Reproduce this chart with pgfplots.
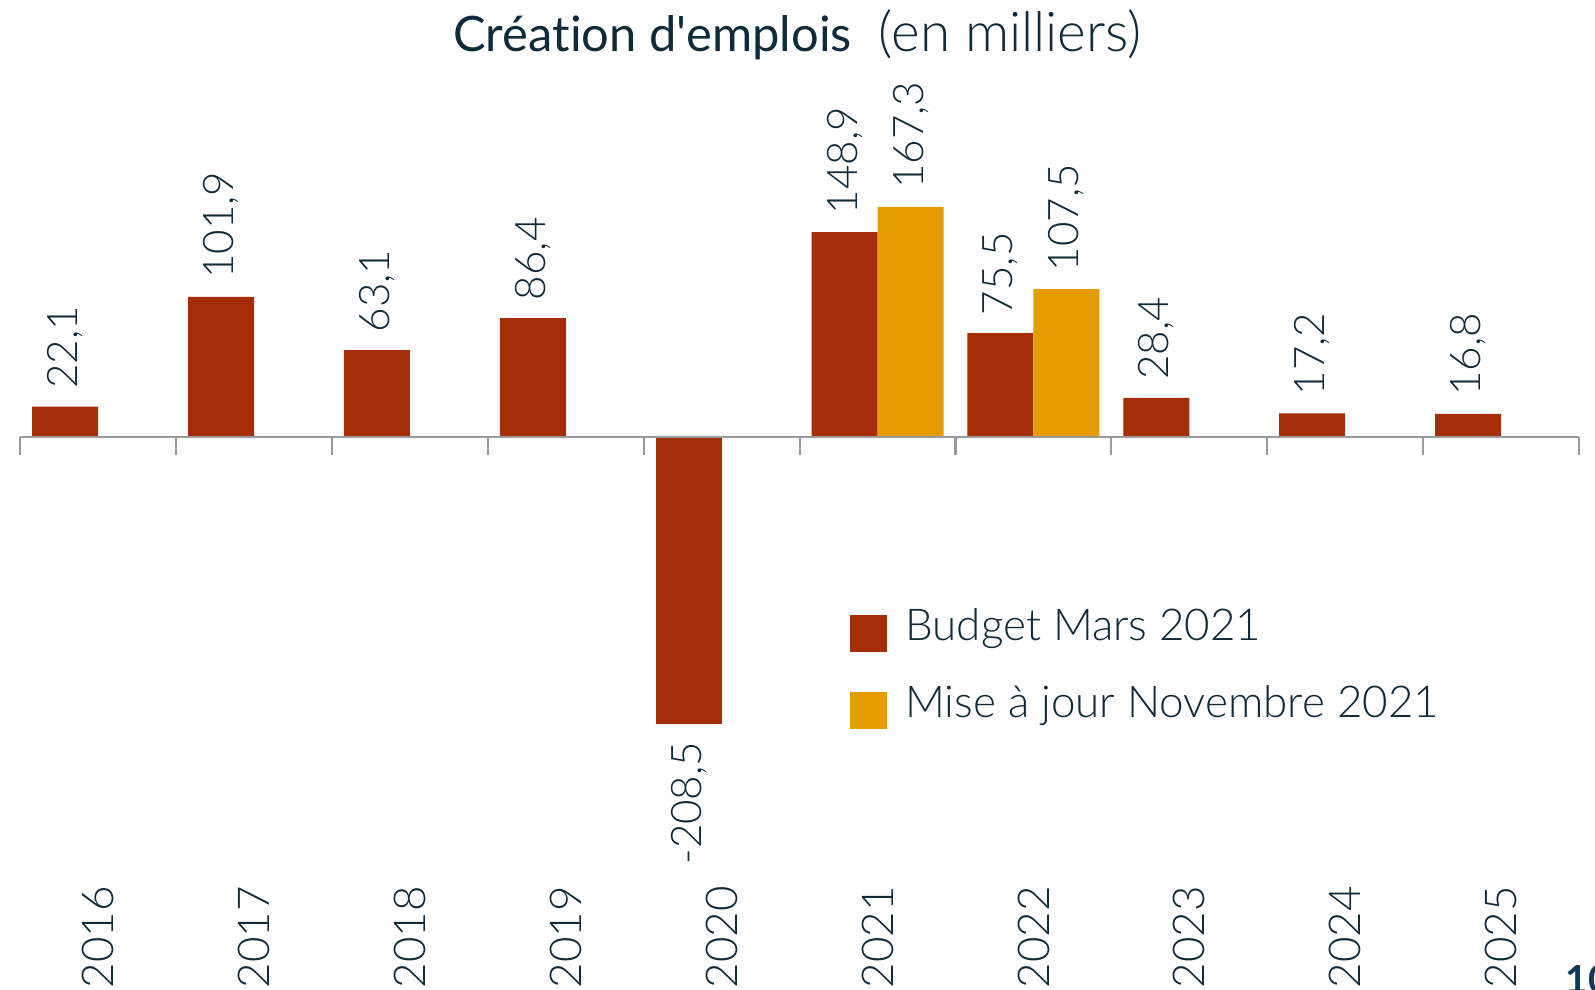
\documentclass[border=0pt]{standalone}
\usepackage{pgfplots}
\usepackage{pgfplotstable}
\pgfplotsset{compat=1.18}
\usepackage{fontspec}
\setmainfont{Lato}[Ligatures={TeX,NoCommon}]
\IfFontExistsTF{Lato Light}
  {\newfontfamily\lightf{Lato Light}[Ligatures={TeX,NoCommon}]}
  {\newfontfamily\lightf{Lato}[Ligatures={TeX,NoCommon}]}
\definecolor{barred}{HTML}{A52D07}
\definecolor{barorange}{HTML}{E59C00}
\definecolor{textc}{HTML}{0E2B3B}
\definecolor{axgray}{HTML}{9A9A9A}
\definecolor{pagec}{HTML}{0E3A55}

\pgfplotstableread{
x y label
0 22.1 22,1
1 101.9 101,9
2 63.1 63,1
3 86.4 86,4
5 148.9 148,9
6 75.5 75,5
7 28.4 28,4
8 17.2 17,2
9 16.8 16,8
}\budgetpos
\pgfplotstableread{
x y label
4 -208.5 -208,5
}\budgetneg
\pgfplotstableread{
x y label
5 167.3 167,3
6 107.5 107,5
}\maj

\tikzset{yearlab/.style={rotate=90, anchor=west, inner sep=0pt, text=textc, font=\lightf\fontsize{12.5}{15}\selectfont}}

\begin{document}
\begin{tikzpicture}
\begin{axis}[
  scale only axis,
  width=155.87mm, height=99mm,
  xmin=-0.5, xmax=9.5,
  ymin=-401.9, ymax=317.6,
  hide axis,
  clip=false,
  ybar, bar width=6.6mm,
  legend style={at={(axis cs:4.8256,-124.3)}, anchor=north west, draw=none, fill=none,
    inner sep=0pt, outer sep=0pt, font=\lightf\fontsize{12.5}{15}\selectfont, text=textc,
    row sep=3.55mm, column sep=1.8mm,
    nodes={inner sep=0pt, outer sep=0pt, text height=3.2mm, text depth=1mm}},
  legend cell align=left,
  legend image code/.code={\path (0mm,0mm) rectangle (3.7mm,1.43mm);
    \fill[#1, overlay] (0mm,-2.27mm) rectangle (3.7mm,1.43mm);},
]
\addplot[draw=none, fill=barred, bar shift=-3.3mm,
  nodes near coords, point meta=explicit symbolic,
  every node near coord/.style={xshift=-3.3mm, rotate=90, anchor=west, inner sep=0pt, outer sep=1.8mm,
    font=\lightf\fontsize{12}{14}\selectfont, text=textc}]
  table[x=x, y=y, meta=label] {\budgetpos};
\addlegendentry{Budget Mars 2021}
\addplot[draw=none, fill=barorange, bar shift=3.3mm,
  nodes near coords, point meta=explicit symbolic,
  every node near coord/.style={xshift=3.3mm, rotate=90, anchor=west, inner sep=0pt, outer sep=1.8mm,
    font=\lightf\fontsize{12}{14}\selectfont, text=textc}]
  table[x=x, y=y, meta=label] {\maj};
\addlegendentry{Mise à jour Novembre 2021}
\addplot[draw=none, fill=barred, bar shift=-3.3mm, forget plot,
  nodes near coords, point meta=explicit symbolic,
  every node near coord/.style={xshift=-3.3mm, rotate=90, anchor=east, inner sep=0pt, outer sep=1.8mm,
    font=\lightf\fontsize{12}{14}\selectfont, text=textc}]
  table[x=x, y=y, meta=label] {\budgetneg};

% axis line and ticks
\draw[axgray, line width=0.6pt] (axis cs:-0.5,0) -- (axis cs:9.5,0);
\pgfplotsinvokeforeach{-0.5,0.5,1.5,2.5,3.5,4.5,5.5,6.5,7.5,8.5,9.5}{
  \draw[axgray, line width=0.6pt] (axis cs:#1,0) -- (axis cs:#1,-13.1);
}
% year labels
\node[yearlab] at (axis cs:0,-401.2) {2016};
\node[yearlab] at (axis cs:1,-401.2) {2017};
\node[yearlab] at (axis cs:2,-401.2) {2018};
\node[yearlab] at (axis cs:3,-401.2) {2019};
\node[yearlab] at (axis cs:4,-401.2) {2020};
\node[yearlab] at (axis cs:5,-401.2) {2021};
\node[yearlab] at (axis cs:6,-401.2) {2022};
\node[yearlab] at (axis cs:7,-401.2) {2023};
\node[yearlab] at (axis cs:8,-401.2) {2024};
\node[yearlab] at (axis cs:9,-401.2) {2025};
% title
\node[anchor=base, inner sep=0pt, text=textc] at (axis cs:4.487,280.5)
  {\fontsize{13.9}{17}\selectfont Création d\textquotesingle emplois\hspace{2.7mm}{\lightf\fontsize{15.6}{18}\selectfont(en milliers)}};
% page number
\node[anchor=base west, inner sep=0pt, text=pagec, font=\fontsize{11}{13}\selectfont\bfseries] at (axis cs:9.41,-404.1) {10};
\end{axis}
\pgfresetboundingbox
\useasboundingbox ([xshift=-2.03mm]current axis.south west) rectangle ([xshift=1.6mm]current axis.north east);
\end{tikzpicture}
\end{document}
